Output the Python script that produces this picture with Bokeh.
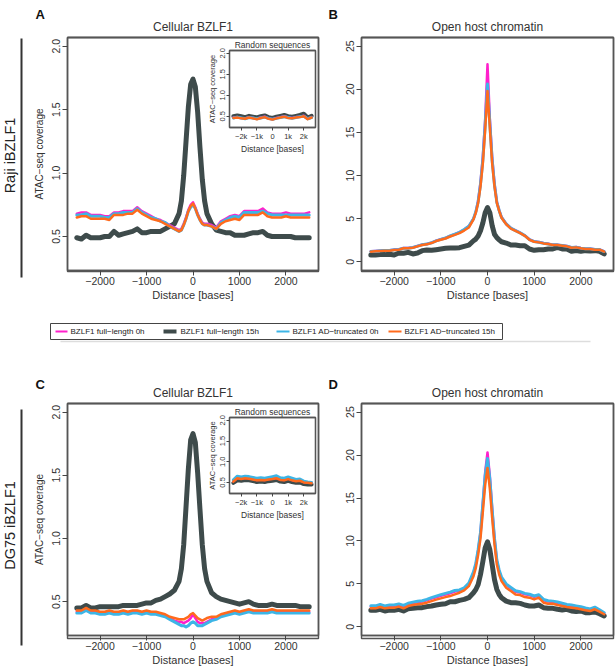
from math import pi
from bokeh.plotting import figure
from bokeh.models import Range1d, FixedTicker, GridBox, Column, LinearAxis
from bokeh.core.properties import value
from bokeh.embed import file_html
from bokeh.resources import INLINE

FONT = "Liberation Sans"
TXT = "#333333"
FRAME = "#555555"

# ---------------- data ----------------
X = [-2500, -2400, -2300, -2200, -2100, -2000, -1900, -1800, -1700, -1600, -1500,
     -1400, -1300, -1200, -1100, -1000, -900, -800, -700, -600, -500, -400,
     -300, -250, -200, -150, -100, -50, 0, 50, 100, 150, 200, 250, 300,
     400, 500, 600, 700, 800, 900, 1000, 1100, 1200, 1300, 1400, 1500,
     1600, 1700, 1800, 1900, 2000, 2100, 2200, 2300, 2400, 2500]

# Panel A: Raji, cellular BZLF1 sites
A_fl0 = [0.68, 0.69, 0.69, 0.67, 0.67, 0.67, 0.66, 0.66, 0.69, 0.69, 0.70, 0.70, 0.70, 0.73, 0.70, 0.68, 0.66, 0.64, 0.63, 0.61, 0.59, 0.57,
         0.55, 0.56, 0.60, 0.65, 0.71, 0.75, 0.77, 0.73, 0.68, 0.64, 0.61, 0.60, 0.60,
         0.59, 0.57, 0.62, 0.64, 0.66, 0.67, 0.66, 0.70, 0.70, 0.70, 0.70, 0.72, 0.69, 0.68, 0.68, 0.68, 0.69, 0.68, 0.68, 0.68, 0.68, 0.69]
A_fl15 = [0.49, 0.48, 0.51, 0.49, 0.49, 0.49, 0.50, 0.50, 0.54, 0.51, 0.52, 0.53, 0.54, 0.56, 0.53, 0.53, 0.54, 0.54, 0.54, 0.56, 0.58, 0.60,
          0.68, 0.78, 0.98, 1.25, 1.52, 1.70, 1.74, 1.68, 1.48, 1.20, 0.95, 0.78, 0.68,
          0.60, 0.55, 0.54, 0.53, 0.53, 0.51, 0.51, 0.51, 0.52, 0.53, 0.53, 0.54, 0.51, 0.50, 0.50, 0.50, 0.50, 0.50, 0.49, 0.49, 0.49, 0.49]
A_ad0 = [0.67, 0.67, 0.68, 0.66, 0.66, 0.66, 0.65, 0.65, 0.68, 0.68, 0.69, 0.69, 0.69, 0.72, 0.69, 0.67, 0.65, 0.64, 0.62, 0.61, 0.58, 0.56,
         0.54, 0.55, 0.59, 0.64, 0.70, 0.73, 0.75, 0.72, 0.67, 0.63, 0.60, 0.59, 0.59,
         0.58, 0.56, 0.61, 0.63, 0.65, 0.66, 0.65, 0.69, 0.69, 0.69, 0.69, 0.70, 0.68, 0.67, 0.67, 0.67, 0.67, 0.67, 0.67, 0.67, 0.67, 0.67]
A_ad15 = [0.65, 0.66, 0.66, 0.64, 0.64, 0.64, 0.64, 0.63, 0.67, 0.67, 0.67, 0.68, 0.68, 0.71, 0.68, 0.66, 0.64, 0.63, 0.62, 0.60, 0.58, 0.56,
          0.54, 0.55, 0.59, 0.64, 0.70, 0.74, 0.76, 0.72, 0.67, 0.63, 0.60, 0.59, 0.59,
          0.58, 0.56, 0.60, 0.62, 0.63, 0.64, 0.63, 0.67, 0.67, 0.67, 0.67, 0.69, 0.66, 0.65, 0.65, 0.65, 0.66, 0.65, 0.65, 0.65, 0.65, 0.65]

# Panel B: Raji, open host chromatin
B_fl0 = [1.22, 1.26, 1.30, 1.34, 1.34, 1.42, 1.45, 1.61, 1.61, 1.68, 1.84, 2.00, 2.08, 2.23, 2.46, 2.62, 2.78, 3.01, 3.22, 3.43, 3.75, 4.15,
         5.00, 5.80, 7.10, 9.20, 12.2, 16.5, 22.9, 16.6, 12.1, 9.10, 7.00, 6.00, 5.20,
         4.42, 3.92, 3.65, 3.38, 3.06, 2.60, 2.37, 2.30, 2.18, 2.10, 1.99, 1.99, 1.91, 1.84, 1.68, 1.72, 1.61, 1.53, 1.53, 1.45, 1.45, 1.22]
B_fl15 = [0.80, 0.80, 0.84, 0.84, 0.88, 0.80, 1.03, 1.00, 1.10, 0.92, 1.03, 1.30, 1.38, 1.34, 1.41, 1.49, 1.57, 1.60, 1.60, 1.64, 1.80, 1.95,
          2.45, 2.64, 3.00, 3.60, 4.50, 5.70, 6.30, 5.70, 4.20, 3.20, 2.80, 2.55, 2.33,
          2.18, 1.95, 1.95, 1.87, 1.87, 1.49, 1.34, 1.41, 1.41, 1.49, 1.49, 1.68, 1.49, 1.49, 1.22, 1.30, 1.22, 1.30, 1.26, 1.30, 1.22, 0.92]
B_ad0 = [1.20, 1.24, 1.28, 1.32, 1.32, 1.40, 1.43, 1.59, 1.59, 1.66, 1.82, 1.98, 2.06, 2.21, 2.44, 2.60, 2.76, 3.00, 3.20, 3.42, 3.76, 4.12,
         5.00, 5.80, 7.00, 9.00, 11.8, 15.9, 20.6, 16.0, 11.8, 8.90, 6.90, 5.95, 5.15,
         4.40, 3.90, 3.63, 3.36, 3.04, 2.58, 2.35, 2.28, 2.16, 2.08, 1.97, 1.97, 1.89, 1.82, 1.66, 1.70, 1.59, 1.51, 1.51, 1.43, 1.43, 1.20]
B_ad15 = [1.18, 1.22, 1.26, 1.30, 1.30, 1.38, 1.41, 1.57, 1.57, 1.64, 1.80, 1.95, 2.03, 2.18, 2.41, 2.56, 2.71, 2.94, 3.13, 3.33, 3.63, 3.98,
          4.93, 5.70, 6.84, 8.75, 11.4, 15.3, 19.8, 15.6, 11.4, 8.75, 6.84, 5.90, 5.12,
          4.36, 3.86, 3.60, 3.33, 3.02, 2.56, 2.33, 2.26, 2.14, 2.06, 1.95, 1.95, 1.87, 1.80, 1.64, 1.68, 1.57, 1.49, 1.49, 1.41, 1.41, 1.18]

# Panel C: DG75, cellular BZLF1 sites
C_fl0 = [0.42, 0.42, 0.44, 0.42, 0.42, 0.41, 0.41, 0.42, 0.41, 0.41, 0.42, 0.41, 0.42, 0.42, 0.41, 0.42, 0.41, 0.41, 0.40, 0.39, 0.37, 0.35,
         0.34, 0.34, 0.33, 0.34, 0.35, 0.37, 0.40, 0.37, 0.34, 0.33, 0.33, 0.33, 0.34,
         0.36, 0.37, 0.39, 0.40, 0.41, 0.42, 0.41, 0.42, 0.43, 0.42, 0.42, 0.42, 0.42, 0.43, 0.42, 0.42, 0.42, 0.42, 0.42, 0.42, 0.42, 0.42]
C_fl15 = [0.45, 0.45, 0.47, 0.45, 0.45, 0.46, 0.46, 0.46, 0.46, 0.46, 0.47, 0.47, 0.47, 0.47, 0.48, 0.49, 0.49, 0.51, 0.52, 0.54, 0.56, 0.59,
          0.66, 0.76, 0.95, 1.25, 1.55, 1.78, 1.83, 1.76, 1.52, 1.23, 0.95, 0.76, 0.66,
          0.57, 0.54, 0.52, 0.51, 0.50, 0.49, 0.48, 0.49, 0.50, 0.48, 0.47, 0.47, 0.47, 0.48, 0.47, 0.47, 0.47, 0.47, 0.47, 0.46, 0.46, 0.46]
C_ad0 = [0.41, 0.41, 0.43, 0.41, 0.41, 0.40, 0.40, 0.41, 0.40, 0.40, 0.41, 0.40, 0.41, 0.41, 0.40, 0.41, 0.40, 0.40, 0.39, 0.38, 0.36, 0.34,
         0.32, 0.31, 0.31, 0.30, 0.31, 0.33, 0.34, 0.33, 0.31, 0.31, 0.31, 0.32, 0.33,
         0.35, 0.36, 0.38, 0.39, 0.40, 0.41, 0.40, 0.41, 0.42, 0.41, 0.41, 0.41, 0.41, 0.42, 0.41, 0.41, 0.41, 0.41, 0.41, 0.41, 0.41, 0.41]
C_ad15 = [0.43, 0.43, 0.45, 0.43, 0.43, 0.42, 0.42, 0.43, 0.42, 0.42, 0.43, 0.42, 0.43, 0.43, 0.42, 0.43, 0.42, 0.42, 0.41, 0.40, 0.38, 0.37,
          0.36, 0.36, 0.36, 0.37, 0.38, 0.40, 0.41, 0.39, 0.37, 0.36, 0.35, 0.36, 0.37,
          0.38, 0.38, 0.40, 0.41, 0.42, 0.43, 0.42, 0.43, 0.44, 0.43, 0.43, 0.43, 0.43, 0.44, 0.43, 0.43, 0.43, 0.43, 0.43, 0.43, 0.43, 0.43]

# Panel D: DG75, open host chromatin
D_fl0 = [2.35, 2.35, 2.50, 2.35, 2.45, 2.45, 2.58, 2.40, 2.65, 2.78, 2.88, 2.95, 3.10, 3.30, 3.46, 3.62, 3.78, 3.92, 4.12, 4.20, 4.45, 5.00,
         6.30, 7.30, 8.90, 11.0, 14.4, 18.0, 20.3, 17.6, 13.8, 10.3, 7.70, 6.50, 5.70,
         4.90, 4.50, 4.10, 4.00, 3.80, 3.70, 3.50, 3.65, 3.10, 2.95, 2.90, 2.80, 2.65, 2.50, 2.45, 2.35, 2.25, 2.10, 2.00, 2.20, 1.90, 1.58]
D_fl15 = [1.93, 1.93, 2.05, 1.85, 1.97, 1.93, 2.05, 1.85, 2.12, 2.16, 2.24, 2.24, 2.36, 2.43, 2.55, 2.63, 2.70, 2.93, 2.93, 3.09, 3.20, 3.40,
          3.98, 4.36, 4.94, 6.10, 7.60, 9.20, 9.90, 9.00, 7.26, 5.50, 4.36, 3.78, 3.40,
          3.00, 2.82, 2.82, 2.74, 2.55, 2.43, 2.43, 2.55, 2.24, 2.16, 2.16, 2.05, 1.97, 2.05, 1.85, 1.78, 1.85, 1.66, 1.66, 1.74, 1.54, 1.27]
D_ad0 = [2.45, 2.45, 2.60, 2.45, 2.55, 2.55, 2.68, 2.50, 2.75, 2.88, 2.98, 3.05, 3.20, 3.40, 3.58, 3.75, 3.90, 4.05, 4.25, 4.30, 4.55, 5.10,
         6.40, 7.40, 9.00, 11.0, 14.3, 17.6, 19.6, 17.2, 13.6, 10.3, 7.80, 6.60, 5.80,
         5.00, 4.60, 4.20, 4.10, 3.90, 3.80, 3.60, 3.75, 3.20, 3.05, 3.00, 2.90, 2.75, 2.60, 2.55, 2.45, 2.35, 2.20, 2.10, 2.30, 2.00, 1.65]
D_ad15 = [2.16, 2.16, 2.32, 2.16, 2.24, 2.24, 2.36, 2.16, 2.43, 2.55, 2.63, 2.70, 2.82, 3.00, 3.17, 3.32, 3.47, 3.59, 3.78, 3.98, 4.25, 4.75,
          5.90, 6.87, 8.40, 10.3, 13.4, 16.5, 18.5, 16.1, 12.7, 9.60, 7.26, 6.10, 5.33,
          4.56, 4.17, 3.78, 3.71, 3.47, 3.40, 3.20, 3.40, 2.82, 2.70, 2.70, 2.55, 2.43, 2.32, 2.24, 2.16, 2.05, 1.93, 1.85, 2.05, 1.78, 1.47]

# Insets: random sequences
XI = [-2500, -2250, -2000, -1750, -1500, -1250, -1000, -750, -500, -250, 0,
      250, 500, 750, 1000, 1250, 1500, 1750, 2000, 2250, 2500]
IA_fl0 = [0.47, 0.48, 0.46, 0.45, 0.48, 0.46, 0.44, 0.47, 0.49, 0.45, 0.43, 0.46, 0.48, 0.50, 0.47, 0.46, 0.48, 0.49, 0.51, 0.44, 0.48]
IA_fl15 = [0.50, 0.52, 0.50, 0.48, 0.51, 0.49, 0.47, 0.50, 0.52, 0.48, 0.46, 0.49, 0.51, 0.53, 0.50, 0.49, 0.51, 0.53, 0.56, 0.47, 0.51]
IA_ad0 = [0.46, 0.48, 0.46, 0.44, 0.47, 0.46, 0.44, 0.46, 0.48, 0.45, 0.43, 0.45, 0.47, 0.49, 0.47, 0.45, 0.47, 0.49, 0.50, 0.44, 0.47]
IA_ad15 = [0.46, 0.47, 0.45, 0.44, 0.47, 0.45, 0.43, 0.46, 0.48, 0.44, 0.42, 0.45, 0.47, 0.49, 0.46, 0.45, 0.47, 0.48, 0.50, 0.43, 0.47]
IC_fl0 = [0.53, 0.61, 0.59, 0.61, 0.60, 0.58, 0.56, 0.57, 0.56, 0.58, 0.59, 0.61, 0.57, 0.56, 0.59, 0.56, 0.54, 0.55, 0.51, 0.50, 0.49]
IC_fl15 = [0.49, 0.55, 0.54, 0.56, 0.55, 0.53, 0.51, 0.52, 0.51, 0.53, 0.54, 0.56, 0.52, 0.51, 0.54, 0.51, 0.49, 0.50, 0.46, 0.45, 0.45]
IC_ad0 = [0.56, 0.65, 0.63, 0.65, 0.64, 0.62, 0.60, 0.61, 0.60, 0.62, 0.64, 0.66, 0.61, 0.60, 0.63, 0.60, 0.57, 0.58, 0.53, 0.51, 0.50]
IC_ad15 = [0.52, 0.60, 0.58, 0.60, 0.59, 0.57, 0.55, 0.56, 0.55, 0.57, 0.58, 0.60, 0.56, 0.55, 0.58, 0.55, 0.53, 0.54, 0.50, 0.49, 0.48]

SERIES_KEYS = ["fl0", "fl15", "ad0", "ad15"]
SERIES_LABELS = ["BZLF1 full\u2212length 0h", "BZLF1 full\u2212length 15h",
                 "BZLF1 AD\u2212truncated 0h", "BZLF1 AD\u2212truncated 15h"]
X_TICKS = [-2000, -1000, 0, 1000, 2000]
X_TICK_LABELS = ["\u22122000", "\u22121000", "0", "1000", "2000"]
XI_TICK_LABELS = ["\u22122k", "\u22121k", "0", "1k", "2k"]
COV_TICKS = [0.5, 1.0, 1.5, 2.0]
COV_TICK_LABELS = ["0.5", "1.0", "1.5", "2.0"]
OPEN_TICKS = [0, 5, 10, 15, 20, 25]
OPEN_TICK_LABELS = ["0", "5", "10", "15", "20", "25"]

# ---------------- styling ----------------
COLORS = {"fl0": "#FF20CC", "fl15": "#3E4B4B", "ad0": "#3DB5E6", "ad15": "#FF6A1C"}
WIDTHS = {"fl0": 2.5, "fl15": 5.0, "ad0": 3.0, "ad15": 2.5}
LEGEND_WIDTHS = {"fl0": 2, "fl15": 4, "ad0": 2, "ad15": 2}
DRAW_ORDER = ["fl15", "fl0", "ad0", "ad15"]

# page layout of the four main panels: canvas origin, borders and frame size (px)
MAIN_LAYOUT = {
    "A": dict(x0=26, y0=14, bl=41, fw=251, bt=23, fh=234, bb=32),
    "B": dict(x0=325, y0=14, bl=36, fw=252, bt=23, fh=234, bb=32),
    "C": dict(x0=26, y0=380, bl=41, fw=251, bt=23, fh=235, bb=30),
    "D": dict(x0=325, y0=380, bl=36, fw=252, bt=23, fh=235, bb=30),
}


def style_axis(ax, ticks, labels, tick_len, label_size, axis_label, axis_label_size,
               label_standoff, axis_label_standoff, parallel=False):
    ax.ticker = FixedTicker(ticks=ticks, minor_ticks=[])
    ax.major_label_overrides = {t: l for t, l in zip(ticks, labels)}
    ax.axis_line_color = FRAME
    ax.axis_line_width = 1.3
    ax.major_tick_out = tick_len
    ax.major_tick_in = 0
    ax.minor_tick_out = 0
    ax.minor_tick_in = 0
    ax.major_tick_line_color = "#444444"
    ax.major_tick_line_width = 1
    ax.major_label_text_font = FONT
    ax.major_label_text_font_size = label_size
    ax.major_label_text_color = TXT
    ax.major_label_standoff = label_standoff
    if parallel:
        ax.major_label_orientation = "parallel"
    if axis_label:
        ax.axis_label = axis_label
        ax.axis_label_text_font = FONT
        ax.axis_label_text_font_size = axis_label_size
        ax.axis_label_text_font_style = "normal"
        ax.axis_label_text_color = TXT
        ax.axis_label_standoff = axis_label_standoff


def box_side(p, side, ticks):
    # plain frame line on the top / right side: an axis with no visible ticks or labels
    ax = LinearAxis(ticker=FixedTicker(ticks=ticks, minor_ticks=[]),
                    major_label_overrides={t: "" for t in ticks},
                    axis_line_color=FRAME, axis_line_width=1.3,
                    major_tick_out=0, major_tick_in=0, minor_tick_out=0, minor_tick_in=0,
                    major_tick_line_color=None, minor_tick_line_color=None,
                    major_label_standoff=0, major_label_text_font_size="1px")
    p.add_layout(ax, side)


def make_plot(bl, fw, br, bt, fh, bb, xr, yr, title, title_size, title_standoff, bg_alpha):
    p = figure(width=bl + fw + br, height=bt + fh + bb,
               x_range=Range1d(*xr), y_range=Range1d(*yr),
               output_backend="svg", toolbar_location=None,
               min_border_left=bl, min_border_right=br,
               min_border_top=bt, min_border_bottom=bb, title=title)
    p.border_fill_alpha = 0
    p.background_fill_color = "white"
    p.background_fill_alpha = bg_alpha
    p.outline_line_color = FRAME
    p.outline_line_width = 1.3
    p.xgrid.visible = False
    p.ygrid.visible = False
    p.title.align = "center"
    p.title.text_font = FONT
    p.title.text_font_size = title_size
    p.title.text_font_style = "normal"
    p.title.text_color = TXT
    p.title.standoff = title_standoff
    return p


def place(p, x0, y0):
    # wrap so that the grid does not align plot frames; position by margin
    return Column(children=[p], margin=(y0, 0, 0, x0))


def add_lines(p, xs, data):
    for k in DRAW_ORDER:
        p.line(xs, data[k], line_color=COLORS[k], line_width=WIDTHS[k],
               line_join="round", line_cap="round")


def main_panel(key, xr, yr, yticks, ylabels, title, ylabel, data):
    L = MAIN_LAYOUT[key]
    p = make_plot(L["bl"], L["fw"], 2, L["bt"], L["fh"], L["bb"], xr, yr, title, "12px", 7, 0)
    add_lines(p, X, data)
    style_axis(p.below[0], X_TICKS, X_TICK_LABELS, 5, "10.5px", "Distance [bases]", "11px", 1, 1)
    style_axis(p.left[0], yticks, ylabels, 5, "10.5px", ylabel, "10px", 2, 5, parallel=True)
    box_side(p, "above", X_TICKS)
    box_side(p, "right", yticks)
    return place(p, L["x0"], L["y0"])


def inset_panel(data, fh, xr, yr, x0, y0):
    p = make_plot(20, 91, 2, 15, fh, 22, xr, yr, "Random sequences", "8.5px", 1, 1)
    add_lines(p, XI, data)
    p.renderers[0].glyph.line_width = 4
    style_axis(p.below[0], X_TICKS, XI_TICK_LABELS, 3, "7.5px", "Distance [bases]", "8.5px", 1, 0)
    style_axis(p.left[0], COV_TICKS, COV_TICK_LABELS, 3, "7.5px", "ATAC\u2212seq coverage", "7.5px", 1, 1, parallel=True)
    box_side(p, "above", X_TICKS)
    box_side(p, "right", COV_TICKS)
    return place(p, x0, y0)


XR = (-2700, 2700)
XR_INSET = (-2750, 2750)
COV_R = (0.232, 2.068)
OPEN_R = (-1, 26)

pA = main_panel("A", XR, COV_R, COV_TICKS, COV_TICK_LABELS, "Cellular BZLF1",
                "ATAC\u2212seq coverage", dict(fl0=A_fl0, fl15=A_fl15, ad0=A_ad0, ad15=A_ad15))
iA = inset_panel(dict(fl0=IA_fl0, fl15=IA_fl15, ad0=IA_ad0, ad15=IA_ad15), 84, XR_INSET, COV_R, 204, 35)
pB = main_panel("B", XR, OPEN_R, OPEN_TICKS, OPEN_TICK_LABELS, "Open host chromatin",
                None, dict(fl0=B_fl0, fl15=B_fl15, ad0=B_ad0, ad15=B_ad15))
pC = main_panel("C", XR, COV_R, COV_TICKS, COV_TICK_LABELS, "Cellular BZLF1",
                "ATAC\u2212seq coverage", dict(fl0=C_fl0, fl15=C_fl15, ad0=C_ad0, ad15=C_ad15))
iC = inset_panel(dict(fl0=IC_fl0, fl15=IC_fl15, ad0=IC_ad0, ad15=IC_ad15), 83, XR_INSET, COV_R, 204, 402)
pD = main_panel("D", XR, OPEN_R, OPEN_TICKS, OPEN_TICK_LABELS, "Open host chromatin",
                None, dict(fl0=D_fl0, fl15=D_fl15, ad0=D_ad0, ad15=D_ad15))

# ---------------- background: frames, panel letters, row labels, shared legend ----------------
bg = figure(width=615, height=668, x_range=Range1d(0, 615), y_range=Range1d(668, 0),
            min_border=0, output_backend="svg", toolbar_location=None,
            x_axis_location=None, y_axis_location=None)
bg.outline_line_color = None
bg.background_fill_color = "white"
bg.border_fill_color = "white"
bg.grid.visible = False

# box around each main panel's plotting region (taken from the layout above)
frames = [MAIN_LAYOUT[k] for k in ["A", "B", "C", "D"]]
bg.quad(left=[f["x0"] + f["bl"] for f in frames],
        right=[f["x0"] + f["bl"] + f["fw"] for f in frames],
        top=[f["y0"] + f["bt"] for f in frames],
        bottom=[f["y0"] + f["bt"] + f["fh"] for f in frames],
        fill_alpha=0, line_color=FRAME, line_width=1.4)

bg.text(x=[35, 328, 35, 328], y=[13.5, 13.5, 383.5, 383.5], text=["A", "B", "C", "D"],
        text_font=value(FONT), text_font_style="bold", text_font_size="13px",
        text_baseline="alphabetic", text_align="left", text_color="#111111")
bg.text(x=[9.5, 9.5], y=[155, 525], text=["Raji iBZLF1", "DG75 iBZLF1"], angle=pi / 2,
        text_font=value(FONT), text_font_size="14.5px", text_align="center",
        text_baseline="middle", text_color="#222222")
bg.segment(x0=[21, 21], y0=[38, 409], x1=[21, 21], y1=[277, 645],
           line_color="#333333", line_width=2)
bg.segment(x0=[60], y0=[341], x1=[590], y1=[341], line_color="#dddddd", line_width=1.5)

# legend (one row, boxed) shared by all panels
LEG_KEY_X0 = [55, 163, 276, 388]
LEG_KEY_X1 = [67, 176, 289, 401]
LEG_TEXT_X = [70, 180, 292, 404]
LEG_Y = 331
bg.quad(left=[50], right=[502], top=[323], bottom=[339], fill_color="white",
        line_color="#444444", line_width=1)
bg.segment(x0=LEG_KEY_X0, y0=[LEG_Y] * 4, x1=LEG_KEY_X1, y1=[LEG_Y] * 4,
           line_color=[COLORS[k] for k in SERIES_KEYS],
           line_width=[LEGEND_WIDTHS[k] for k in SERIES_KEYS])
bg.text(x=LEG_TEXT_X, y=[LEG_Y] * 4, text=SERIES_LABELS, text_font=value(FONT),
        text_font_size="8px", text_baseline="middle", text_align="left", text_color="#222222")

grid = GridBox(children=[(place(bg, 0, 0), 0, 0),
                         (pA, 0, 0), (iA, 0, 0), (pB, 0, 0),
                         (pC, 0, 0), (iC, 0, 0), (pD, 0, 0)])

open("out.html", "w").write(file_html(grid, INLINE))
